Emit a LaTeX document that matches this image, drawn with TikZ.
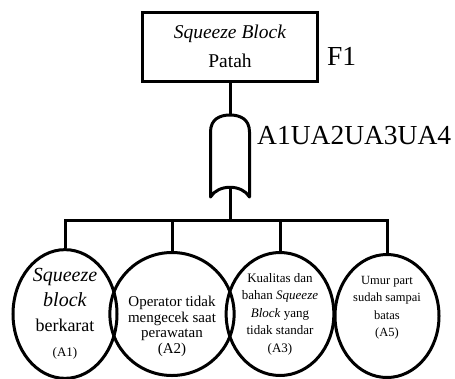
\documentclass[tikz,border=0pt]{standalone}
\usepackage{fontspec}
\setmainfont{Liberation Serif}
\usetikzlibrary{positioning,shapes.geometric}

\begin{document}
\begin{tikzpicture}[
  x=1pt, y=-1pt,
  box/.style={draw=black, line width=3pt, minimum width=175pt, minimum height=69pt, align=center, inner sep=0pt, font=\fontsize{19.5}{29}\selectfont},
  cause/.style={draw=black, ellipse, line width=3pt, minimum width=104pt, minimum height=123pt, inner sep=0pt, align=center, font=\fontsize{12.5}{17.5}\selectfont},
  lbl/.style={inner sep=0pt, font=\fontsize{27.5}{30}\selectfont},
  wire/.style={line width=3pt}
]
\useasboundingbox (0,0) rectangle (455,378);

% top event
\node[box] (top) at (230,46.5) {\textit{Squeeze Block}\\Patah};
\node[lbl, anchor=west] (f1) at (327,56) {F1};

% OR gate
\coordinate (gtop) at (230,115);
\coordinate (gbot) at (230,186.5);
\draw[wire, line join=round] (210.5,197) -- (210.5,132) .. controls (210.5,119) and (220,115) .. (gtop)
  .. controls (240,115) and (249.5,119) .. (249.5,132) -- (249.5,197) .. controls (242,184) and (218,184) .. cycle;
\node[lbl, anchor=west] (glbl) at (257,136) {A1UA2UA3UA4};

% basic events
\node[cause, font=\fontsize{18}{25}\selectfont] (a1) at (65,314) {\textit{\fontsize{20}{25}\selectfont Squeeze}\\\textit{\fontsize{20}{25}\selectfont block}\\berkarat\\{\fontsize{13}{16}\selectfont (A1)}};
\node[cause, font=\fontsize{15}{15.5}\selectfont] (a2) at (172,314) {\\[20pt]Operator tidak\\mengecek saat\\perawatan\\(A2)};
\node[cause, font=\fontsize{13}{17.5}\selectfont] (a3) at (280,314) {Kualitas dan\\bahan \textit{Squeeze}\\\textit{Block} yang\\tidak standar\\(A3)};
\node[cause] (a4) at (387,316) {Umur part\\sudah sampai\\batas\\(A5)\\[2pt]};

% connectors
\coordinate (bus) at (230,220);
\draw[wire] (top.south) -- (gtop);
\draw[wire] (gbot) -- (bus);
\draw[wire] (a1.north) |- (bus) -| (a4.north);
\draw[wire] (a2.north) -- (a2.north |- bus);
\draw[wire] (a3.north) -- (a3.north |- bus);
\end{tikzpicture}
\end{document}
